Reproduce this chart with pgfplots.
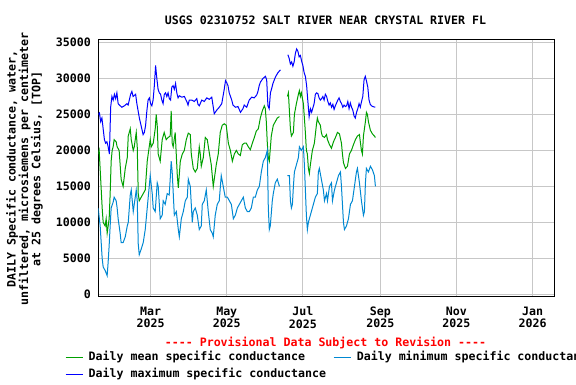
\documentclass[border=0pt]{standalone}
\usepackage{pgfplots}
\pgfplotsset{compat=1.18}
\usepackage{fontspec}
\setmainfont{DejaVu Sans Mono}[Ligatures=TeXOff]
\newcommand\f{\fontsize{11.6}{12.3}\selectfont\bfseries}
\definecolor{cmean}{RGB}{0,160,0}
\definecolor{cmin}{RGB}{0,136,210}
\definecolor{cmax}{RGB}{0,0,255}
\begin{document}
\begin{tikzpicture}
\useasboundingbox (0,0) rectangle (576pt,384pt);
\begin{axis}[
  at={(98.3pt,87.3pt)}, anchor=south west,
  width=456.1pt, height=257.4pt, scale only axis,
  xmin=17.1, xmax=382.5, ymin=-333, ymax=35445,
  xtick={59,120,181,243,304,365},
  xticklabels={Mar\\2025,May\\2025,Jul\\2025,Sep\\2025,Nov\\2025,Jan\\2026},
  ytick={0,5000,...,35000},
  scaled y ticks=false,
  /pgf/number format/.cd, 1000 sep={}, assume math mode=true, /pgfplots/.cd,
  xticklabel style={font=\f, align=center, inner sep=0pt, yshift=-10pt},
  yticklabel style={font=\f, inner sep=0pt, xshift=-7.3pt},
  grid=major, major grid style={draw=black!22, line width=1pt},
  tick style={draw=none},
  axis line style={line width=1.3pt},
  unbounded coords=jump,
  legend columns=2,
  legend cell align=left,
  legend image code/.code={\draw[#1,line width=1pt] (0pt,0pt) -- (17pt,0pt);},
  legend style={draw=none, fill=none, inner sep=0pt, outer sep=0pt,
    at={(axis description cs:-0.073,-0.217)}, anchor=north west,
    font=\f, row sep=6pt,
    nodes={inner sep=0pt, text height=8pt, text depth=2.5pt},
    /tikz/every odd column/.append style={column sep=5.7pt},
    /tikz/every even column/.append style={column sep=7pt}},
]
\addplot[cmean, line width=1pt] coordinates {
(17,19500)(17.8,20000)(19.4,14700)(20.2,12000)(21,10000)(22.6,9500)(23.4,10500)(24.2,8500)(25,9500)(25.8,10500)(26.6,14000)(27.4,18500)(28.2,20000)(29,20500)(29.8,21500)(31.4,21200)(32.2,20500)(33.8,20000)(34.6,18000)(35.4,16000)(37,15000)(38.7,17500)(40.3,19000)(41.1,22000)(42.7,23000)(43.5,21500)(45.1,20000)(45.9,20500)(47.5,22500)(48.3,20500)(49.1,14000)(49.9,13000)(51.5,13500)(53.1,14000)(54.7,14500)(56.3,18500)(57.1,19500)(58.7,21500)(59.5,20500)(61.1,21000)(62.7,23000)(63.5,25000)(64.3,23500)(65.1,19500)(66.7,18500)(68.3,21500)(69.9,22500)(71.5,21500)(73.1,21800)(74.7,22000)(75.5,25500)(76.3,21000)(77.1,20500)(78.7,22500)(80.4,16500)(81.2,14800)(82.8,18500)(84.4,19500)(86,20000)(87.6,21500)(89.2,22400)(90.8,22200)(91.6,19500)(93.2,17500)(94.8,17000)(96.4,17500)(98,20500)(98.8,19500)(99.6,17800)(101.2,19000)(102.8,21800)(104.4,21500)(106,19700)(107.6,18000)(109.2,15000)(110,16000)(111.6,18000)(113.2,19500)(114.8,22500)(116.4,23500)(118,23700)(119.6,23500)(121.3,21000)(122.9,20000)(124.5,18500)(126.1,19500)(127.7,20000)(129.3,19500)(130.9,19300)(132.5,20800)(134.1,21000)(135.7,21000)(137.3,20500)(138.9,20100)(140.5,21000)(142.1,21800)(143.7,22700)(145.3,23000)(146.9,24500)(148.5,25500)(150.1,26200)(150.9,25800)(151.7,24000)(152.5,21000)(153.3,19000)(154.1,18500)(155.7,22000)(157.3,23500)(158.9,24000)(160.5,24500)(162.2,24700)
(165,nan)
(168.6,27500)(169.4,28000)(170.2,25500)(171,23000)(171.8,22000)(173.4,22500)(174.2,25000)(175.8,26500)(177.4,27800)(178.2,28300)(179,27500)(179.8,28000)(181.4,26500)(182.2,24500)(183,22500)(183.8,20000)(184.6,19500)(185.4,17500)(186.2,16800)(187,18000)(187.8,19000)(188.6,20000)(190.2,21000)(191.8,23500)(192.6,24500)(193.4,24000)(195,23500)(195.8,22500)(196.6,22000)(198.3,21800)(199.9,22200)(200.7,21500)(202.3,20800)(203.9,20300)(205.5,21200)(207.1,21800)(208.7,22500)(210.3,22300)(211.9,21000)(212.7,19500)(213.5,18300)(215.1,17500)(216.7,17800)(218.3,19500)(219.9,20000)(221.5,20800)(223.1,21500)(224.7,22000)(226.3,22200)(227.9,20000)(228.7,19500)(229.5,22000)(231.1,24000)(231.9,25300)(232.7,25000)(233.5,24000)(235.1,22800)(236.7,22300)(238.3,22000)(239.1,21800)
};
\addlegendentry{Daily mean specific conductance}
\addplot[cmin, line width=1pt] coordinates {
(17,12000)(18.6,9500)(20.2,5000)(21,3800)(22.6,3300)(24.2,2600)(25,4500)(25.8,6800)(26.6,9500)(27.4,12000)(29,12800)(29.8,13500)(31.4,13000)(32.2,12000)(33,10500)(34.6,8500)(35.4,7200)(37,7200)(38.7,8000)(40.3,9500)(41.1,10000)(42.7,13800)(43.5,14500)(45.1,11500)(45.9,12500)(47.5,14500)(48.3,13000)(49.1,7000)(49.9,5500)(51.5,6300)(53.1,7200)(54.7,9000)(56.3,12000)(57.9,15000)(58.7,16500)(60.3,14000)(61.1,12000)(62.7,11500)(64.3,15500)(65.1,15000)(66.7,10500)(68.3,11000)(69.1,13000)(70.7,12500)(72.3,14000)(73.9,13800)(74.7,16000)(75.5,18500)(76.3,17000)(78,11000)(79.6,11500)(81.2,9000)(82,8000)(83.6,10500)(85.2,11500)(86.8,13000)(88.4,13500)(89.2,16000)(90.8,15000)(92.4,10000)(93.2,11500)(94.8,12000)(96.4,11000)(98,9000)(99.6,9500)(100.4,12500)(102,13000)(103.6,14500)(105.2,11500)(106.8,9000)(108.4,8500)(109.2,8000)(110.8,11000)(112.4,12500)(114,13000)(115.6,16500)(117.2,15000)(118.8,13500)(120.5,13500)(122.1,13000)(123.7,12500)(125.3,10500)(126.9,11000)(128.5,12000)(130.1,12500)(131.7,13000)(133.3,13500)(134.9,12000)(136.5,11500)(138.1,11500)(139.7,12000)(141.3,13500)(142.9,13500)(144.5,14500)(146.1,15000)(147.7,17000)(149.3,18500)(150.9,19000)(152.5,20000)(153.3,12000)(154.1,9000)(154.9,9500)(156.5,13000)(157.3,14000)(158.9,15500)(160.5,16000)(162.2,15000)
(165,nan)
(168.6,16500)(170.2,16500)(171,13000)(171.8,12000)(172.6,12500)(173.4,15000)(174.2,17000)(175.8,18000)(177.4,19000)(178.2,20500)(179.8,20000)(181.4,20500)(182.2,18000)(183,14500)(183.8,11000)(184.6,9000)(185.4,10000)(187,11000)(188.6,12000)(189.4,12500)(191,13500)(192.6,14000)(193.4,17000)(194.2,17500)(195.8,16000)(197.4,14500)(198.3,13000)(199.9,14000)(200.7,13000)(202.3,15000)(203.9,15500)(204.7,13000)(206.3,14500)(207.9,15500)(209.5,16500)(211.1,17000)(211.9,15000)(212.7,12500)(213.5,10000)(214.3,9000)(215.9,9500)(217.5,10500)(219.1,12500)(220.7,13000)(222.3,15000)(223.9,17000)(224.7,17500)(226.3,15500)(227.9,13000)(229.5,11000)(230.3,11500)(231.1,15500)(231.9,17500)(233.5,17000)(235.1,17800)(236.7,17300)(238.3,16500)(239.1,15000)
};
\addlegendentry{Daily minimum specific conductance}
\addplot[cmax, line width=1pt] coordinates {
(17,25000)(18,25200)(19,24000)(20,24500)(21,23000)(22,21500)(23,21000)(24,21200)(25,20500)(26,19500)(27,26000)(28,27500)(29,27000)(30,27800)(31,27200)(32,28000)(33,26500)(34,26300)(36,26000)(38,26200)(40,26500)(41,26300)(43,27800)(44,28200)(45,27500)(47,27800)(48,26500)(49,25500)(50,24500)(53,22200)(54,22500)(55,23500)(56,25500)(57,27000)(58,27300)(59,26500)(60,26200)(61,27000)(62,29000)(63,31800)(64,30000)(65,28500)(66,28000)(67,27800)(68,27000)(69,26500)(70,27800)(71,28000)(72,27500)(73,28000)(74,27200)(75,27000)(76,28800)(77,29000)(78,28500)(79,29300)(80,28000)(81,27300)(82,27600)(84,27400)(86,27500)(88,26800)(89,26300)(90,27000)(92,27000)(94,26800)(96,27200)(97,26400)(98,26200)(100,27000)(102,26800)(104,27300)(106,27100)(108,27400)(110,25100)(112,25600)(114,26000)(116,26500)(118,28500)(119,29700)(120,29400)(121,29000)(122,28000)(124,27000)(125,26300)(127,26000)(129,26100)(131,25300)(133,25800)(134,26300)(136,26000)(138,27000)(140,27400)(142,27300)(144,27700)(145,28200)(146,29000)(147,29500)(149,30000)(151,30300)(152,29800)(153,26200)(154,25800)(155,28000)(156,28600)(157,29300)(159,30200)(161,30800)(163,31200)
(165,nan)
(169,33300)(170,32800)(171,32000)(172,32300)(173,31700)(174,32300)(175,33500)(176,34100)(177,33800)(178,33000)(179,33200)(180,32400)(181,31800)(182,30800)(183,30300)(184,29000)(185,26800)(186,24700)(187,25800)(188,25300)(189,25900)(190,26500)(191,27800)(192,28000)(193,27900)(194,27300)(195,27000)(196,27200)(197,27500)(198,27000)(199,27800)(200,27500)(201,26800)(202,26300)(203,26600)(204,26000)(205,26400)(206,25700)(207,26200)(208,26600)(209,27000)(210,27300)(211,26800)(212,26500)(213,26000)(214,26300)(215,26100)(216,26200)(217,26800)(218,25800)(219,26600)(220,26000)(221,25600)(222,24800)(223,24500)(224,25300)(225,25800)(226,26500)(227,26000)(228,26800)(229,27500)(230,29800)(231,30300)(232,29600)(233,28800)(234,27000)(235,26400)(236,26200)(237,26100)(239,26000)
};
\addlegendentry{Daily maximum specific conductance}
\end{axis}
\node[font=\f] at (325.5pt,364pt) {USGS 02310752 SALT RIVER NEAR CRYSTAL RIVER FL};
\node[font=\f, text=red] at (325.5pt,41.3pt) {---- Provisional Data Subject to Revision ----};
\node[font=\f, rotate=90, align=center] at (24.5pt,215pt) {DAILY Specific conductance, water,\\unfiltered, microsiemens per centimeter\\at 25 degrees Celsius, [TOP]};
\end{tikzpicture}
\end{document}
